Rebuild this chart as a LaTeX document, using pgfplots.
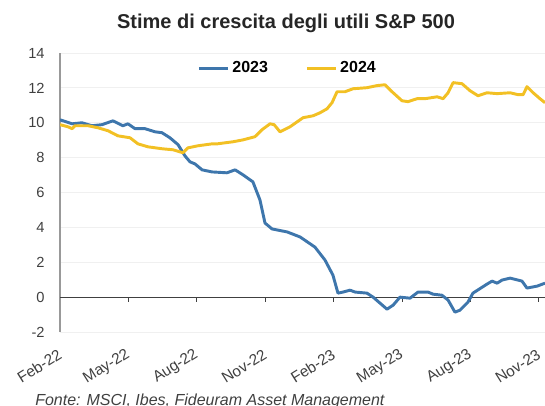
\documentclass[border=0pt]{standalone}
\usepackage{pgfplots}
\pgfplotsset{compat=1.18}
\usepackage{fontspec}
\setmainfont{Liberation Sans}
\definecolor{c23}{RGB}{62,118,172}
\definecolor{c24}{RGB}{242,192,36}
\definecolor{txt}{RGB}{64,64,64}
\begin{document}
\begin{tikzpicture}
\begin{axis}[
 at={(45pt,54.75pt)}, anchor=south west,
 scale only axis, width=363.75pt, height=209.25pt,
 xmin=0, xmax=21.27, ymin=-2, ymax=14,
 axis y line*=left, axis x line*=bottom,
 x axis line style={draw=none},
 y axis line style={draw=gray!80, line width=1pt, -},
 ytick={-2,0,...,14},
 xtick={0,3,...,21},
 xticklabels={Feb-22,May-22,Aug-22,Nov-22,Feb-23,May-23,Aug-23,Nov-23},
 major tick length=0pt,
 ymajorgrids, grid style={gray!12, line width=0.6pt},
 tick label style={font=\fontsize{11}{13}\selectfont, text=txt},
 xticklabel style={rotate=32, anchor=east, yshift=-13.5pt, xshift=-5pt, font=\fontsize{11.5}{13}\selectfont},
 yticklabel style={xshift=-8pt},
 /pgf/number format/assume math mode=true,
 legend columns=2,
 legend style={draw=none, fill=none, at={(0.47,0.946)}, anchor=center,
   font=\bfseries\fontsize{12}{14}\selectfont,
   /tikz/every even column/.append style={column sep=26pt}},
 legend image code/.code={\draw[#1] (0pt,0pt) -- (22pt,0pt);},
]
\draw[txt, line width=0.8pt] (axis cs:0,0) -- (axis cs:21.27,0);
\pgfplotsinvokeforeach{3,6,9,12,15,18,21}{\draw[txt, line width=0.8pt] (axis cs:#1,0) -- (axis cs:#1,-0.3);}
\addplot[c23, line width=2.2pt, line join=round, no marks] coordinates {
(0,10.17)(0.53,9.94)(0.96,10.0)(1.40,9.83)(1.84,9.89)(2.32,10.11)(2.76,9.83)(2.98,9.94)
(3.29,9.66)(3.73,9.66)(4.17,9.48)(4.47,9.43)(4.82,9.14)(5.18,8.74)(5.48,8.10)(5.70,7.76)
(5.92,7.64)(6.23,7.30)(6.67,7.18)(7.32,7.13)(7.68,7.30)(8.03,7.01)(8.46,6.61)(8.77,5.57)
(8.99,4.25)(9.30,3.91)(9.96,3.74)(10.53,3.45)(11.18,2.87)(11.62,2.13)(11.97,1.26)(12.19,0.23)
(12.41,0.29)(12.72,0.40)(12.94,0.29)(13.46,0.23)(13.73,0)(14.34,-0.69)(14.61,-0.46)(14.91,0)
(15.35,-0.06)(15.70,0.29)(16.14,0.29)(16.36,0.17)(16.75,0.11)(17.02,-0.17)(17.32,-0.86)(17.54,-0.75)
(17.89,-0.29)(18.11,0.23)(18.73,0.75)(18.95,0.92)(19.17,0.80)(19.39,0.98)(19.74,1.09)(20.26,0.92)
(20.48,0.52)(20.92,0.63)(21.27,0.80)
};
\addlegendentry{2023}
\addplot[c24, line width=2.2pt, line join=round, no marks] coordinates {
(0,9.89)(0.35,9.77)(0.53,9.66)(0.66,9.83)(1.23,9.83)(1.67,9.71)(2.11,9.54)(2.54,9.25)
(3.07,9.14)(3.42,8.79)(3.86,8.62)(4.47,8.51)(4.96,8.45)(5.39,8.28)(5.61,8.56)(6.05,8.68)
(6.67,8.79)(6.89,8.79)(7.59,8.91)(8.03,9.02)(8.55,9.20)(8.86,9.60)(9.21,9.94)(9.39,9.89)
(9.65,9.48)(10.09,9.77)(10.66,10.29)(11.10,10.40)(11.40,10.57)(11.71,10.80)(11.93,11.15)(12.15,11.78)
(12.50,11.78)(12.85,11.95)(13.46,12.01)(13.90,12.13)(14.25,12.18)(14.56,11.78)(15.00,11.26)(15.26,11.21)
(15.66,11.38)(16.01,11.38)(16.54,11.49)(16.80,11.38)(17.02,11.72)(17.24,12.30)(17.63,12.24)(17.98,11.84)
(18.33,11.55)(18.73,11.72)(19.17,11.67)(19.74,11.72)(20.09,11.61)(20.31,11.61)(20.48,12.07)(20.75,11.72)
(21.05,11.38)(21.27,11.15)
};
\addlegendentry{2024}
\end{axis}
\node[font=\bfseries\fontsize{15}{17}\selectfont, text=black!85] at (214.5pt,286.5pt) {Stime di crescita degli utili S\&P 500};
\node[anchor=base west, font=\itshape\fontsize{12}{14}\selectfont, text=txt, inner sep=0pt] at (26.25pt,-0.5pt) {Fonte: MSCI, Ibes, Fideuram Asset Management};
\pgfresetboundingbox
\path[use as bounding box] (0,0) rectangle (408.75pt,303.75pt);
\end{tikzpicture}
\end{document}
